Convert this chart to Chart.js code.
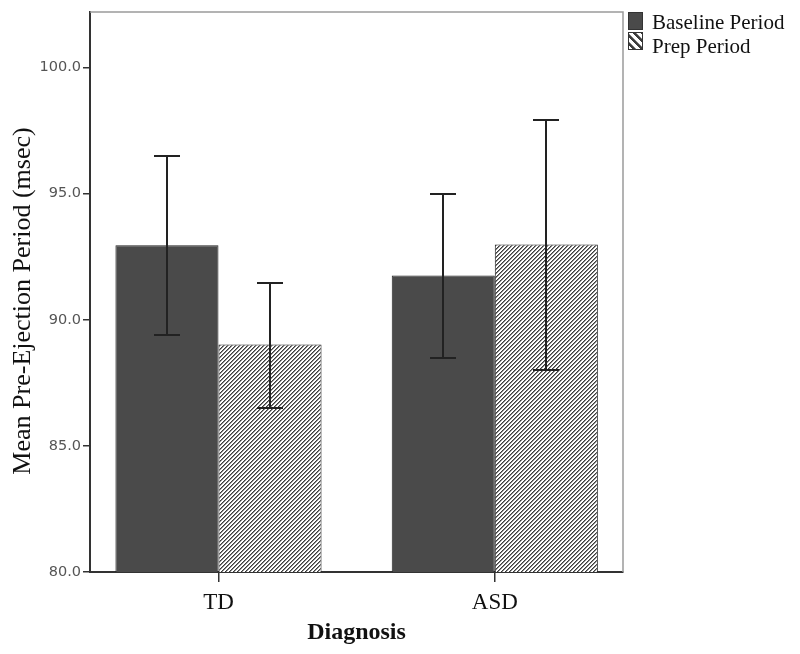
<!DOCTYPE html>
<html>
<head>
<meta charset="utf-8">
<script src="https://cdn.jsdelivr.net/npm/chart.js@4.4.1/dist/chart.umd.min.js"></script>
<style>
  html, body { margin: 0; padding: 0; background: #fff; }
</style>
</head>
<body>
<canvas id="chart" width="800" height="654"></canvas>
<script>
// values
const categories = ['TD', 'ASD']
const baseline = [92.95, 91.75]
const baselineLow = [89.4, 88.5]
const baselineHigh = [96.5, 95.0]
const prep = [89.02, 92.98]
const prepLow = [86.5, 88.0]
const prepHigh = [91.45, 97.92]
const yTicks = [80, 85, 90, 95, 100]
const yTitle = 'Mean Pre-Ejection Period (msec)'

const serif = '"Liberation Serif", "Times New Roman", serif'
const canvas = document.getElementById('chart')
const ctx = canvas.getContext('2d')

// diagonal hatch tile; dir 1 gives "/", dir -1 gives "\"
function makeHatch(size, dark, dir) {
	const tile = document.createElement('canvas')
	tile.width = size
	tile.height = size
	const g = tile.getContext('2d')
	for (let x = 0; x < size; x++) {
		for (let y = 0; y < size; y++) {
			const k = (((x + dir * y) % size) + size) % size
			g.fillStyle = k < dark ? '#3c3c3c' : k === dark ? '#8a8a8a' : '#ffffff'
			g.fillRect(x, y, 1, 1)
		}
	}
	return ctx.createPattern(tile, 'repeat')
}
const hatch = makeHatch(4, 1, 1)
const legendHatch = makeHatch(8, 3, -1)

const toPoints = (vals) => vals.map((v, i) => ({ x: i, y: v }))

const extras = {
	id: 'extras',
	afterDatasetsDraw(chart) {
		const c = chart.ctx
		const y = chart.scales.y
		c.save()
		c.strokeStyle = '#222'
		c.lineWidth = 2
		chart.data.datasets.forEach((ds, di) => {
			chart.getDatasetMeta(di).data.forEach((bar, i) => {
				const x = Math.round(bar.x)
				const hi = Math.round(y.getPixelForValue(ds.high[i]))
				const lo = Math.round(y.getPixelForValue(ds.low[i]))
				c.beginPath()
				c.moveTo(x, hi)
				c.lineTo(x, lo)
				c.moveTo(x - 13, hi)
				c.lineTo(x + 13, hi)
				c.moveTo(x - 13, lo)
				c.lineTo(x + 13, lo)
				c.stroke()
			})
		})
		c.restore()
	},
	afterDraw(chart) {
		const c = chart.ctx
		const a = chart.chartArea
		c.save()
		// light top and right frame
		c.strokeStyle = '#9a9a9a'
		c.lineWidth = 1.5
		c.beginPath()
		c.moveTo(a.left, a.top)
		c.lineTo(a.right, a.top)
		c.lineTo(a.right, a.bottom)
		c.stroke()
		// y axis title, sitting a little below the middle as in the original
		c.save()
		c.translate(23, (a.top + a.bottom) / 2 + 9)
		c.rotate(-Math.PI / 2)
		c.font = '26px ' + serif
		c.fillStyle = '#111'
		c.textAlign = 'center'
		c.textBaseline = 'middle'
		c.fillText(yTitle, 0, 0)
		c.restore()
		// legend
		const lx = a.right + 5
		chart.data.datasets.forEach((ds, i) => {
			const sy = a.top + i * 20
			c.fillStyle = i === 1 ? legendHatch : ds.backgroundColor
			c.fillRect(lx, sy, 15, 18)
			c.strokeStyle = '#333'
			c.lineWidth = 1
			c.strokeRect(lx + 0.5, sy + 0.5, 14, 17)
			c.fillStyle = '#111'
			c.font = '21px ' + serif
			c.textBaseline = 'alphabetic'
			c.fillText(ds.label, lx + 24, a.top + 17 + i * 24)
		})
		c.restore()
	},
}

new Chart(ctx, {
	type: 'bar',
	data: {
		datasets: [
			{
				label: 'Baseline Period',
				data: toPoints(baseline),
				low: baselineLow,
				high: baselineHigh,
				backgroundColor: '#4a4a4a',
				borderColor: '#222',
				borderWidth: 1,
			},
			{
				label: 'Prep Period',
				data: toPoints(prep),
				low: prepLow,
				high: prepHigh,
				backgroundColor: hatch,
				borderColor: '#222',
				borderWidth: 1,
			},
		],
	},
	options: {
		responsive: false,
		animation: false,
		categoryPercentage: 0.746,
		barPercentage: 1,
		layout: { padding: { top: 12, right: 177, left: 0, bottom: 0 } },
		plugins: { legend: { display: false }, tooltip: { enabled: false } },
		scales: {
			x: {
				type: 'linear',
				offset: false,
				min: -0.465,
				max: 1.464,
				afterBuildTicks: (s) => {
					s.ticks = categories.map((_, i) => ({ value: i }))
				},
				afterFit: (s) => {
					s.height = 82
				},
				ticks: {
					callback: (v) => categories[v],
					font: { family: serif, size: 23 },
					color: '#111',
					padding: 7,
					autoSkip: false,
					maxRotation: 0,
				},
				grid: { offset: false, drawOnChartArea: false, tickLength: 10, color: '#333', lineWidth: 1.5 },
				border: { color: '#333', width: 2 },
				title: {
					display: true,
					text: 'Diagnosis',
					font: { family: serif, size: 24, weight: 'bold' },
					color: '#111',
					padding: { top: 0, bottom: 7 },
				},
			},
			y: {
				min: 80,
				max: 102.2,
				afterBuildTicks: (s) => {
					s.ticks = yTicks.map((v) => ({ value: v }))
				},
				afterFit: (s) => {
					s.width = 90
				},
				ticks: {
					callback: (v) => v.toFixed(1),
					font: { family: '"DejaVu Sans", sans-serif', size: 14.5 },
					color: '#555',
					padding: 2,
				},
				grid: { drawOnChartArea: false, tickLength: 7, color: '#333', lineWidth: 1.5 },
				border: { color: '#333', width: 2 },
			},
		},
	},
	plugins: [extras],
})
</script>
</body>
</html>
